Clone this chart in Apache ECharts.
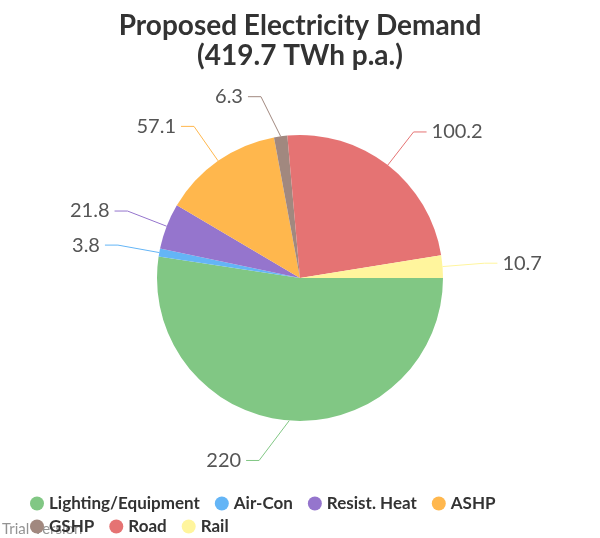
<!DOCTYPE html>
<html>
<head>
  <meta charset="utf-8" />
  <title>Proposed Electricity Demand</title>
  <script src="https://cdn.jsdelivr.net/npm/echarts@6/dist/echarts.min.js"></script>
  <style>
    html, body { margin: 0; padding: 0; background: #fff; }
    #chart { width: 600px; height: 538px; }
  </style>
</head>
<body>
<div id="chart"></div>
<script type="text/javascript">
    // data
    var categories = ['Lighting/Equipment', 'Air-Con', 'Resist. Heat', 'ASHP', 'GSHP', 'Road', 'Rail'];
    var values = [220, 3.8, 21.8, 57.1, 6.3, 100.2, 10.7];
    var colors = ['#81c784', '#64b5f6', '#9575cd', '#ffb74d', '#a1887f', '#e57373', '#fff59d'];

    var chartDom = document.getElementById('chart');
    var myChart = echarts.init(chartDom);
    var font = 'Lato, "DejaVu Sans", sans-serif';

    var pieData = categories.map(function (name, i) {
        return { name: name, value: values[i] };
    });

    // legend wraps after the 4th item, rows sit close together
    function legendRow(names, top) {
        return {
            data: names,
            left: 30,
            top: top,
            padding: 0,
            icon: 'circle',
            itemWidth: 14,
            itemHeight: 14,
            itemGap: 15,
            textStyle: {
                fontFamily: font,
                fontSize: 17,
                fontWeight: 'bold',
                color: '#333'
            }
        };
    }

    // sideways shift for labels sitting near the vertical axis
    var labelShift = { 0: [-27, -2], 4: [-14, 2] };

    var option = {
        color: colors,
        animation: false,
        title: {
            text: 'Proposed Electricity Demand\n(419.7 TWh p.a.)',
            left: 'center',
            top: 6,
            textStyle: {
                fontFamily: font,
                fontSize: 28,
                fontWeight: 'bold',
                color: '#333',
                lineHeight: 30
            }
        },
        legend: [
            legendRow(categories.slice(0, 4), 495),
            legendRow(categories.slice(4), 518)
        ],
        graphic: [{
            type: 'text',
            left: 2,
            top: 522,
            style: {
                text: 'Trial Version',
                fontFamily: font,
                fontSize: 15,
                fill: 'rgba(120,120,120,0.8)'
            }
        }],
        series: [{
            type: 'pie',
            center: [300, 278],
            radius: 143,
            startAngle: 0,
            clockwise: true,
            data: pieData,
            label: {
                formatter: '{c}',
                fontFamily: font,
                fontSize: 20,
                color: '#555'
            },
            labelLine: {
                length: 42,
                length2: 13,
                lineStyle: { width: 1 }
            },
            labelLayout: function (params) {
                var d = labelShift[params.dataIndex];
                var pts = params.labelLinePoints;
                if (!d || !pts) return;
                return {
                    dx: d[0],
                    dy: d[1],
                    labelLinePoints: [
                        pts[0],
                        [pts[1][0] + d[0], pts[1][1] + d[1]],
                        [pts[2][0] + d[0], pts[2][1] + d[1]]
                    ]
                };
            },
            itemStyle: { borderWidth: 0 },
            emphasis: { disabled: true }
        }]
    };
    myChart.setOption(option);
</script>
</body>
</html>
